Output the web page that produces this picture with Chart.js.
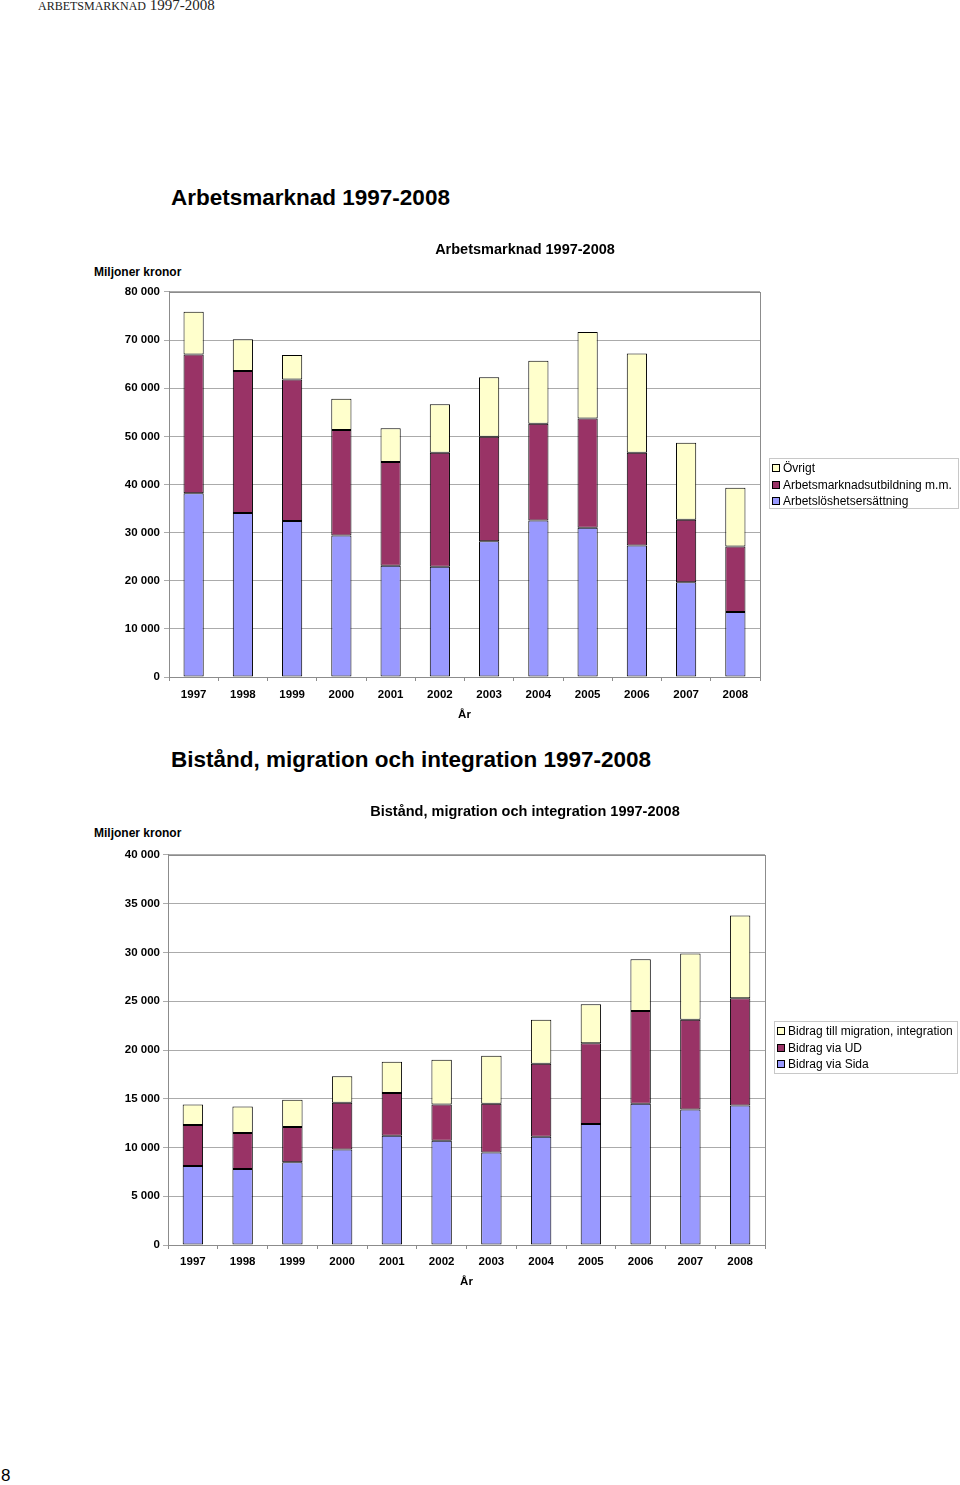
<!DOCTYPE html>
<html lang="sv">
<head>
<meta charset="utf-8">
<title>Arbetsmarknad 1997-2008</title>
<script src="https://cdn.jsdelivr.net/npm/chart.js@4.4.1/dist/chart.umd.min.js"></script>
<style>
  body { margin: 0; background: #fff; width: 960px; height: 1485px; position: relative; overflow: hidden; font-family: "Liberation Sans", Arial, sans-serif; }
  .abs { position: absolute; white-space: nowrap; }
  .entete { left: 38px; top: -3px; font-family: "Liberation Serif", "Times New Roman", serif; font-size: 15px; color: #222; }
  .entete small { font-size: 12px; }
  .grandtitre { left: 171px; font-size: 22.5px; font-weight: bold; line-height: 26px; }
  .unite { left: 94px; font-size: 12px; font-weight: bold; line-height: 14px; }
  .legende { border: 1px solid #c8c8c8; font-size: 12px; line-height: 16.5px; padding: 1px 0 0 2px; box-sizing: border-box; }
  .legende div { display: flex; align-items: center; }
  .legende span.carre { display: inline-block; width: 8px; height: 8px; border: 1px solid #000; margin-right: 3px; box-sizing: border-box; }
  canvas { position: absolute; }
  .page { left: 1px; top: 1466px; font-size: 17px; }
</style>
</head>
<body>
<div class="abs entete"><small>ARBETSMARKNAD</small> 1997-2008</div>

<div class="abs grandtitre" style="top:185px">Arbetsmarknad 1997-2008</div>
<div class="abs unite" style="top:265px">Miljoner kronor</div>
<canvas id="chart1" width="870" height="500" style="left:90px;top:230px"></canvas>
<div class="abs legende" id="leg1" style="left:769px;top:458px;width:190px;height:51px"></div>

<div class="abs grandtitre" style="top:747px">Bistånd, migration och integration 1997-2008</div>
<div class="abs unite" style="top:826px">Miljoner kronor</div>
<canvas id="chart2" width="870" height="503" style="left:90px;top:792px"></canvas>
<div class="abs legende" id="leg2" style="left:774px;top:1021px;width:184px;height:53px"></div>

<div class="abs page">8</div>

<script>
// données (millions de kronor)
const ar = ['1997', '1998', '1999', '2000', '2001', '2002', '2003', '2004', '2005', '2006', '2007', '2008'];

const arbetsloshet = [38200, 34100, 32400, 29400, 23100, 22900, 28200, 32500, 31000, 27300, 19700, 13500];
const utbildning = [28800, 29500, 29400, 21900, 21600, 23700, 21700, 20100, 22700, 19300, 13000, 13600];
const ovrigt = [8900, 6600, 5100, 6500, 7000, 10100, 12400, 13100, 18000, 20600, 16000, 12200];

const sida = [8100, 7800, 8500, 9800, 11200, 10700, 9500, 11100, 12400, 14500, 13900, 14300];
const ud = [4200, 3700, 3600, 4800, 4400, 3700, 5000, 7500, 8300, 9500, 9200, 11000];
const migration = [2100, 2700, 2800, 2700, 3200, 4600, 4900, 4500, 4000, 5300, 6800, 8500];

const bleu = '#9999FF';
const bordeaux = '#993366';
const jaune = '#FFFFCC';

// format "80 000"
function formatNombre(v) {
  return String(v).replace(/\B(?=(\d{3})+(?!\d))/g, ' ');
}

// cadre gris autour de la zone de tracé
const cadrePlugin = {
  id: 'cadre',
  afterDraw(chart) {
    const a = chart.chartArea;
    const ctx = chart.ctx;
    ctx.save();
    ctx.strokeStyle = '#8c8c8c';
    ctx.lineWidth = 1;
    ctx.strokeRect(Math.round(a.left) + 0.5, Math.round(a.top) + 0.5, Math.round(a.right - a.left), Math.round(a.bottom - a.top));
    ctx.restore();
  }
};

function dataset(label, values, color) {
  return {
    label: label,
    data: values,
    backgroundColor: color,
    borderColor: '#000',
    borderWidth: 1,
    borderSkipped: false,
    barPercentage: 0.41,
    categoryPercentage: 1
  };
}

function creerGraphique(id, titre, datasets, yMax, yStep, opts) {
  const ctx = document.getElementById(id).getContext('2d');
  return new Chart(ctx, {
    type: 'bar',
    data: { labels: ar, datasets: datasets },
    options: {
      responsive: false,
      animation: false,
      plugins: {
        legend: { display: false },
        tooltip: { enabled: false },
        title: {
          display: true,
          text: titre,
          color: '#000',
          font: { family: 'Liberation Sans', size: 14.5, weight: 'bold' },
          padding: { top: opts.titleTop, bottom: opts.titleBottom }
        }
      },
      scales: {
        x: {
          stacked: true,
          afterFit: s => { s.height = opts.xHeight; },
          border: { color: '#8c8c8c' },
          grid: { offset: true, drawOnChartArea: false, drawTicks: true, tickLength: 4, color: '#8c8c8c' },
          ticks: { color: '#000', padding: opts.xPad, maxRotation: 0, font: { family: 'Liberation Sans', size: 11.5, weight: 'bold' } },
          title: {
            display: true,
            text: 'År',
            color: '#000',
            font: { family: 'Liberation Sans', size: 11.5, weight: 'bold' },
            padding: { top: 0, bottom: opts.arBottom }
          }
        },
        y: {
          stacked: true,
          min: 0,
          max: yMax,
          afterFit: s => { s.width = opts.yWidth; },
          border: { color: '#8c8c8c' },
          grid: { color: '#ababab', tickLength: 5, drawTicks: true },
          ticks: {
            stepSize: yStep,
            color: '#000',
            padding: opts.yPad,
            font: { family: 'Liberation Sans', size: 11.5, weight: 'bold' },
            callback: v => formatNombre(v)
          }
        },
        // axe vide à droite : réserve la place de la légende
        reserve: {
          position: 'right',
          min: 0,
          max: 1,
          afterFit: s => { s.width = opts.droite; },
          grid: { display: false },
          border: { display: false },
          ticks: { display: false }
        }
      }
    },
    plugins: [cadrePlugin]
  });
}

// légende HTML (ordre inversé comme dans Excel)
function setLegende(id, items) {
  const box = document.getElementById(id);
  items.forEach(item => {
    const ligne = document.createElement('div');
    ligne.innerHTML = '<span class="carre" style="background:' + item.couleur + '"></span>' + item.texte;
    box.appendChild(ligne);
  });
}

document.addEventListener('DOMContentLoaded', function() {
  creerGraphique('chart1', 'Arbetsmarknad 1997-2008', [
    dataset('Arbetslöshetsersättning', arbetsloshet, bleu),
    dataset('Arbetsmarknadsutbildning m.m.', utbildning, bordeaux),
    dataset('Övrigt', ovrigt, jaune)
  ], 80000, 10000, { droite: 200, yWidth: 79, yPad: 4, xHeight: 53, xPad: 7, arBottom: 8.4, titleTop: 11.3, titleBottom: 33.3 });

  creerGraphique('chart2', 'Bistånd, migration och integration 1997-2008', [
    dataset('Bidrag via Sida', sida, bleu),
    dataset('Bidrag via UD', ud, bordeaux),
    dataset('Bidrag till migration, integration', migration, jaune)
  ], 40000, 5000, { droite: 195, yWidth: 78, yPad: 3, xHeight: 50, xPad: 6, arBottom: 6.4, titleTop: 11.3, titleBottom: 34.3 });

  setLegende('leg1', [
    { texte: 'Övrigt', couleur: jaune },
    { texte: 'Arbetsmarknadsutbildning m.m.', couleur: bordeaux },
    { texte: 'Arbetslöshetsersättning', couleur: bleu }
  ]);
  setLegende('leg2', [
    { texte: 'Bidrag till migration, integration', couleur: jaune },
    { texte: 'Bidrag via UD', couleur: bordeaux },
    { texte: 'Bidrag via Sida', couleur: bleu }
  ]);
});
</script>
</body>
</html>
